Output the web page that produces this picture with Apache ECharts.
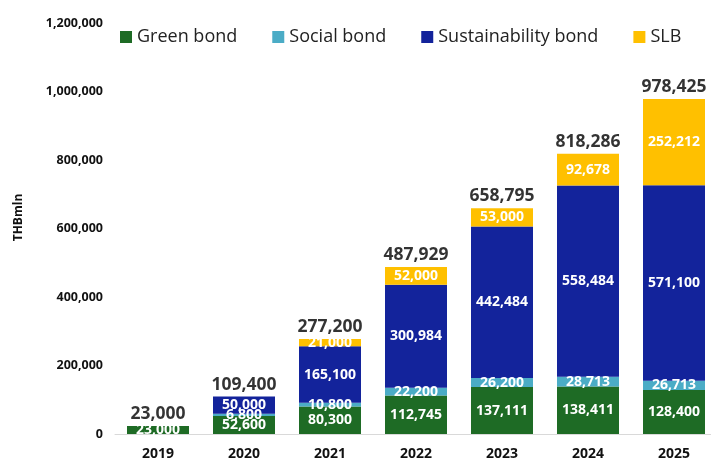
<!DOCTYPE html>
<html>
<head>
<meta charset="utf-8">
<script src="https://cdn.jsdelivr.net/npm/echarts@6/dist/echarts.min.js"></script>
<style>
  html, body { margin: 0; padding: 0; background: #fff; overflow: hidden; }
  #chart { width: 720px; height: 461px; }
</style>
</head>
<body>
<div id="chart"></div>
<script>
// 数据
const years = ['2019', '2020', '2021', '2022', '2023', '2024', '2025'];
const greenBond = [23000, 52600, 80300, 112745, 137111, 138411, 128400];
const socialBond = [0, 6800, 10800, 22200, 26200, 28713, 26713];
const sustainBond = [0, 50000, 165100, 300984, 442484, 558484, 571100];
const slb = [0, 0, 21000, 52000, 53000, 92678, 252212];
const yTicks = [0, 200000, 400000, 600000, 800000, 1000000, 1200000];

// 每年合计
const totals = years.map(function(y, i) {
    return greenBond[i] + socialBond[i] + sustainBond[i] + slb[i];
});

const fmt = function(v) { return Number(v).toLocaleString('en-US'); };
const font = '"Open Sans", "Noto Sans", sans-serif';

function segLabel() {
    return {
        show: true,
        position: 'inside',
        color: '#fff',
        fontFamily: font,
        fontWeight: 'bold',
        fontSize: 14,
        formatter: function(p) { return p.value ? fmt(p.value) : ''; }
    };
}

const chart = echarts.init(document.getElementById('chart'));
chart.setOption({
    animation: false,
    textStyle: { fontFamily: font },
    legend: {
        data: ['Green bond', 'Social bond', 'Sustainability bond', 'SLB'],
        left: 115,
        top: 23,
        itemWidth: 12,
        itemHeight: 12,
        itemGap: 35,
        icon: 'rect',
        textStyle: { fontSize: 18, color: '#222', fontFamily: font }
    },
    grid: {
        left: 115,
        top: 23,
        bottom: 22,
        width: 602
    },
    xAxis: {
        type: 'category',
        data: years,
        axisLine: { lineStyle: { color: '#d9d9d9' } },
        axisTick: { show: false },
        axisLabel: {
            margin: 13,
            color: '#111',
            fontWeight: 'bold',
            fontSize: 14,
            fontFamily: font
        }
    },
    yAxis: {
        type: 'value',
        min: yTicks[0],
        max: yTicks[yTicks.length - 1],
        interval: 200000,
        name: 'THBmln',
        nameLocation: 'middle',
        nameGap: 90,
        nameTextStyle: {
            fontWeight: 'bold', fontSize: 12, color: '#111', fontFamily: font,
            padding: [0, 0, 0, 22]
        },
        splitLine: { show: false },
        axisLine: { show: false },
        axisTick: { show: false },
        axisLabel: {
            margin: 12,
            color: '#111',
            fontWeight: 'bold',
            fontSize: 12.5,
            fontFamily: font,
            formatter: function(v) { return fmt(v); }
        }
    },
    series: [
        {
            name: 'Green bond', type: 'bar', stack: 'total', barWidth: 62,
            data: greenBond, itemStyle: { color: '#1e6b25' }, label: segLabel()
        },
        {
            name: 'Social bond', type: 'bar', stack: 'total',
            data: socialBond, itemStyle: { color: '#4bacc6' }, label: segLabel()
        },
        {
            name: 'Sustainability bond', type: 'bar', stack: 'total',
            data: sustainBond, itemStyle: { color: '#13239b' }, label: segLabel()
        },
        {
            name: 'SLB', type: 'bar', stack: 'total',
            data: slb, itemStyle: { color: '#ffc000' }, label: segLabel()
        },
        {
            name: 'Total', type: 'scatter', data: totals,
            symbolSize: 2,
            itemStyle: { color: 'rgba(0,0,0,0)' },
            silent: true,
            z: 10,
            label: {
                show: true, position: 'top', distance: 2,
                color: '#000', fontWeight: 'bold', fontSize: 17.5, fontFamily: font,
                formatter: function(p) { return fmt(p.value); }
            }
        }
    ]
});

window.addEventListener('resize', function() { chart.resize(); });
</script>
</body>
</html>
